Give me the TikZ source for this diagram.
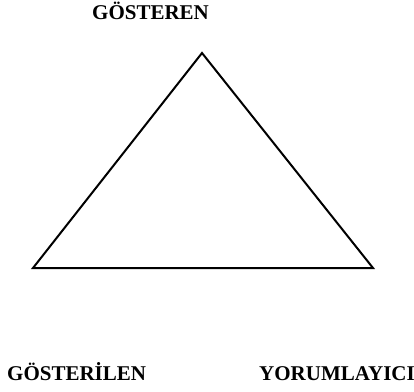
\documentclass[tikz,border=0pt]{standalone}
\usepackage{fontspec}
\setmainfont{Liberation Serif}
\usetikzlibrary{positioning}

\begin{document}
\begin{tikzpicture}[
  x=1pt, y=-1pt,
  term/.style={font=\fontsize{21}{24}\selectfont\bfseries, inner sep=0pt, anchor=base west},
  side/.style={line width=2pt, line join=miter}
]
  \useasboundingbox (0,0) rectangle (414,391);
  % uclu gosterge
  \node[term] (gosteren) at (92,19) {GÖSTEREN};
  \node[term] (gosterilen) at (7,380) {GÖSTERİLEN};
  \node[term] (yorumlayici) at (259,380) {YORUMLAYICI};
  \coordinate (tepe) at (202,53);
  \coordinate (sol) at (33,268);
  \coordinate (sag) at (373,268);
  \draw[side] (tepe) -- (sol) -- (sag) -- cycle;
\end{tikzpicture}
\end{document}
